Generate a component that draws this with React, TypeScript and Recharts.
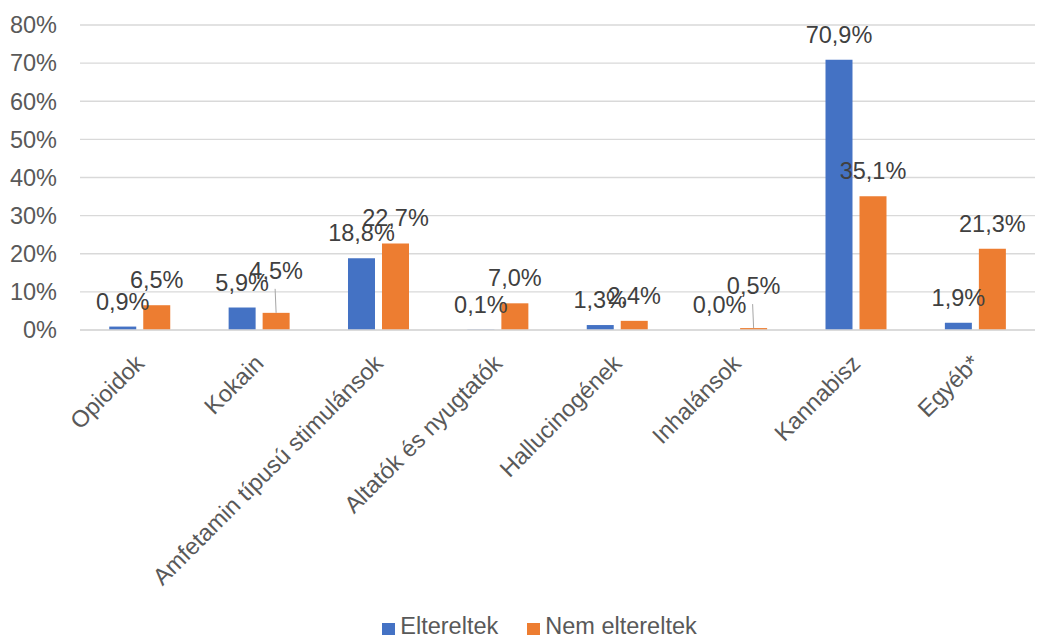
import React from 'react';
import { BarChart, Bar, XAxis, YAxis, CartesianGrid, Legend, LabelList } from 'recharts';

const categories = [
  'Opioidok',
  'Kokain',
  'Amfetamin típusú stimulánsok',
  'Altatók és nyugtatók',
  'Hallucinogének',
  'Inhalánsok',
  'Kannabisz',
  'Egyéb*',
];
const eltereltek = [0.9, 5.9, 18.8, 0.1, 1.3, 0.0, 70.9, 1.9];
const nemEltereltek = [6.5, 4.5, 22.7, 7.0, 2.4, 0.5, 35.1, 21.3];
// labels Excel pulled up above the bar with a leader line
const nemLabelLifted = [false, true, false, false, false, true, false, false];
const yTicks = [0, 10, 20, 30, 40, 50, 60, 70, 80];

const BLUE = '#4472C4';
const ORANGE = '#ED7D31';
const TEXT = '#595959';
const FONT = 'Liberation Sans, Arial, sans-serif';
const FS = 23.5;

const chartData = categories.map((name, i) => ({
  name,
  elt: eltereltek[i],
  nem: nemEltereltek[i],
}));

const fmt = (v: number) => v.toFixed(1).replace('.', ',') + '%';

const makeLabel = (liftFlags?: boolean[]) => (props: any) => {
  const { x, y, width, height, value, index } = props;
  const cx = x + width / 2;
  const top = height < 0 ? y + height : y;
  const lifted = liftFlags ? liftFlags[index] : false;
  const base = top - 17 - (lifted ? 17 : 0);
  return (
    <g>
      {lifted && (
        <line x1={cx - 1} y1={base + 10} x2={cx} y2={top} stroke="#A6A6A6" strokeWidth={1} />
      )}
      <text x={cx} y={base} textAnchor="middle" fill="#404040" fontSize={FS} fontFamily={FONT}>
        {fmt(value)}
      </text>
    </g>
  );
};

const CategoryTick = (props: any) => {
  const { x, y, payload } = props;
  return (
    <g transform={`translate(${x},${y + 21})`}>
      <text
        textAnchor="end"
        transform="rotate(-45)"
        dy="0.35em"
        fill={TEXT}
        fontSize={FS}
        fontFamily={FONT}
      >
        {payload.value}
      </text>
    </g>
  );
};

const LegendContent = () => {
  const items = [
    { label: 'Eltereltek', color: BLUE },
    { label: 'Nem eltereltek', color: ORANGE },
  ];
  return (
    <div
      style={{
        display: 'flex',
        justifyContent: 'center',
        fontFamily: FONT,
        fontSize: FS,
        color: TEXT,
        paddingTop: 16,
        paddingLeft: 44,
      }}
    >
      {items.map((it, i) => (
        <div key={it.label} style={{ display: 'flex', alignItems: 'center', marginLeft: i ? 29 : 0 }}>
          <span style={{ width: 13, height: 12, background: it.color, display: 'inline-block', marginRight: 5, marginTop: 4 }} />
          <span>{it.label}</span>
        </div>
      ))}
    </div>
  );
};

export default function App() {
  return (
    <div style={{ position: 'absolute', left: 0, top: 0, background: '#fff' }}>
      <BarChart
        width={1038}
        height={637}
        data={chartData}
        margin={{ top: 25, right: 3, left: 0, bottom: 0 }}
        barCategoryGap="24.5%"
        barGap={7}
      >
        <CartesianGrid vertical={false} stroke="#D9D9D9" strokeWidth={1.3} />
        <XAxis
          dataKey="name"
          interval={0}
          tick={<CategoryTick />}
          tickLine={false}
          axisLine={{ stroke: '#D9D9D9', strokeWidth: 1.3 }}
          height={267}
        />
        <YAxis
          domain={[0, 80]}
          ticks={yTicks}
          tickFormatter={(v: number) => `${v}%`}
          tick={{ fill: TEXT, fontSize: FS, fontFamily: FONT }}
          axisLine={false}
          tickLine={false}
          tickSize={6}
          tickMargin={17}
          width={80}
        />
        <Legend verticalAlign="bottom" height={40} content={<LegendContent />} />
        <Bar
          dataKey="elt"
          name="Eltereltek"
          fill={BLUE}
          minPointSize={(v: number) => (v === 0 ? 0.01 : 0)}
          isAnimationActive={false}
        >
          <LabelList dataKey="elt" content={makeLabel()} />
        </Bar>
        <Bar dataKey="nem" name="Nem eltereltek" fill={ORANGE} isAnimationActive={false}>
          <LabelList dataKey="nem" content={makeLabel(nemLabelLifted)} />
        </Bar>
      </BarChart>
    </div>
  );
}
